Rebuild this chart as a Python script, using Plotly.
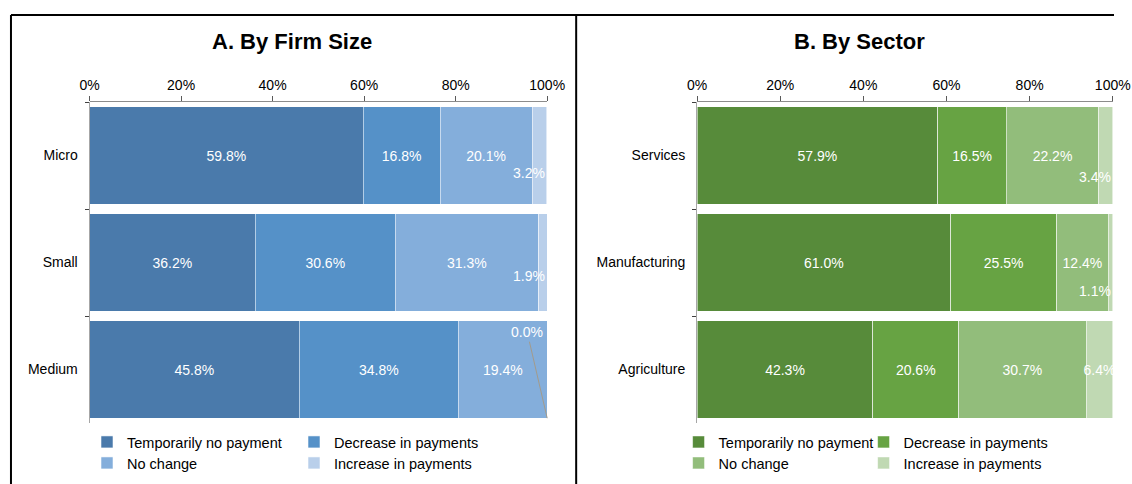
import plotly.graph_objects as go

# ---------------- data ----------------
series = ["Temporarily no payment", "Decrease in payments", "No change", "Increase in payments"]

size_cats = ["Micro", "Small", "Medium"]
size_no_payment = [59.8, 36.2, 45.8]
size_decrease = [16.8, 30.6, 34.8]
size_no_change = [20.1, 31.3, 19.4]
size_increase = [3.2, 1.9, 0.0]

sector_cats = ["Services", "Manufacturing", "Agriculture"]
sector_no_payment = [57.9, 61.0, 42.3]
sector_decrease = [16.5, 25.5, 20.6]
sector_no_change = [22.2, 12.4, 30.7]
sector_increase = [3.4, 1.1, 6.4]

x_ticks = [0, 20, 40, 60, 80, 100]
x_tick_labels = ["0%", "20%", "40%", "60%", "80%", "100%"]

blue = ["#4a7aab", "#5591c8", "#84aedb", "#b9cfea"]
green = ["#578b3a", "#67a343", "#92bd7b", "#c0d9b3"]

FONT = "Liberation Sans, Arial, sans-serif"
W, H = 1132, 484

fig = go.Figure()

# layout helpers: horizontal pixel targets are mapped through the measured
# screen mapping (screen_x = 0.976 * x + 9.4)
def px_x(p):
    return max((p - 9.4) / 0.976, 0) / W

def px_y(p):
    return 1 - p / H

size_small = {0: -17, 1: -13}
sector_small = {0: -21, 1: -28}

def add_panel(cats, vals, colors, xa, ya, legends, small):
    n = len(cats)
    for i, (name, v) in enumerate(zip(series, vals)):
        texts = []
        for j in range(n):
            if i == 3 and (j in small or v[j] == 0):
                texts.append("")
            else:
                texts.append(f"{v[j]:.1f}%")
        fig.add_trace(go.Bar(
            y=cats, x=v, name=name, orientation="h",
            marker=dict(color=colors[i], line=dict(color="rgba(255,255,255,0.55)", width=1)),
            text=texts, textposition="inside", insidetextanchor="middle", textangle=0,
            textfont=dict(color="white", size=14, family=FONT),
            xaxis=xa, yaxis=ya, legend=legends[i // 2],
            hoverinfo="skip", cliponaxis=False,
        ))
    for j in range(n):
        total = sum(vals[k][j] for k in range(4))
        inc = vals[3][j]
        if j in small:
            fig.add_annotation(
                x=total, y=cats[j], xref=xa, yref=ya, text=f"{inc:.1f}%",
                showarrow=False, xanchor="right", yanchor="middle",
                yshift=small[j], xshift=0,
                font=dict(color="white", size=14, family=FONT),
            )
        elif inc == 0:
            fig.add_annotation(
                x=total, y=j + 0.455, xref=xa, yref=ya, text=f"{inc:.1f}%",
                showarrow=True, arrowhead=0, arrowwidth=1, arrowcolor="#a39b8b",
                ax=-20, ay=-86, xanchor="center",
                font=dict(color="white", size=14, family=FONT),
            )

add_panel(size_cats, [size_no_payment, size_decrease, size_no_change, size_increase],
          blue, "x", "y", ["legend", "legend2"], size_small)
add_panel(sector_cats, [sector_no_payment, sector_decrease, sector_no_change, sector_increase],
          green, "x2", "y2", ["legend3", "legend4"], sector_small)

y_dom = [px_y(423), px_y(102)]
xaxis_common = dict(
    side="top", range=[0, 100], tickmode="array", tickvals=x_ticks, ticktext=x_tick_labels,
    ticks="outside", ticklen=5, tickcolor="#595959", showline=True,
    linecolor="#8c8c8c", linewidth=1, showgrid=False, zeroline=False,
    tickfont=dict(size=14, family=FONT, color="#000000"), fixedrange=True,
    anchor="free", position=px_y(100.5),
)
yaxis_common = dict(
    type="category", autorange=False, range=[2.5, -0.5],
    ticks="outside", tickson="boundaries", ticklen=4, tickcolor="#404040",
    showline=True, linecolor="#a6a6a6", linewidth=1, showgrid=False,
    ticklabelstandoff=8,
    tickfont=dict(size=14, family=FONT, color="#000000"), fixedrange=True,
)

legend_common = dict(
    orientation="h", xanchor="left", yanchor="middle",
    font=dict(size=14.5, family=FONT, color="#000000"),
    bgcolor="rgba(0,0,0,0)", borderwidth=0, traceorder="normal",
    itemclick=False, itemdoubleclick=False, tracegroupgap=0,
)

legend_left_x = px_x(126) - 40.5 / W
legend_right_x = px_x(718) - 40.5 / W

fig.update_layout(
    width=W, height=H, autosize=False,
    margin=dict(l=0, r=0, t=0, b=0),
    paper_bgcolor="white", plot_bgcolor="white",
    barmode="stack", bargap=0.09,
    uniformtext=dict(minsize=14, mode="show"),
    font=dict(family=FONT, color="#000000"),
    xaxis=dict(domain=[px_x(89), px_x(547)], **xaxis_common),
    yaxis=dict(domain=y_dom, anchor="x", categoryarray=size_cats, **yaxis_common),
    xaxis2=dict(domain=[px_x(697), px_x(1113)], **xaxis_common),
    yaxis2=dict(domain=y_dom, anchor="x2", categoryarray=sector_cats, **yaxis_common),
    legend=dict(x=legend_left_x, y=px_y(442), entrywidth=162, **legend_common),
    legend2=dict(x=legend_left_x, y=px_y(463), entrywidth=162, **legend_common),
    legend3=dict(x=legend_right_x, y=px_y(442), entrywidth=140, **legend_common),
    legend4=dict(x=legend_right_x, y=px_y(463), entrywidth=140, **legend_common),
    showlegend=True,
)

fig.add_annotation(x=px_x(292), y=px_y(41), xref="paper", yref="paper",
                   xanchor="center", yanchor="middle",
                   text="<b>A. By Firm Size</b>", showarrow=False,
                   font=dict(size=22, family=FONT, color="#000000"))
fig.add_annotation(x=px_x(860), y=px_y(41), xref="paper", yref="paper",
                   xanchor="center", yanchor="middle",
                   text="<b>B. By Sector</b>", showarrow=False,
                   font=dict(size=22, family=FONT, color="#000000"))

line = dict(color="#000000", width=2)
left_edge = 1.0 / W
fig.add_shape(type="line", xref="paper", yref="paper", x0=left_edge, x1=1, y0=px_y(15), y1=px_y(15), line=line)
fig.add_shape(type="line", xref="paper", yref="paper", x0=left_edge, x1=left_edge, y0=px_y(15), y1=0, line=line)
fig.add_shape(type="line", xref="paper", yref="paper", x0=px_x(576), x1=px_x(576), y0=px_y(15), y1=0, line=line)

fig.write_html(
    "out.html", config={"displayModeBar": False},
    post_script="document.body.style.margin='0';document.body.style.overflow='hidden';",
)
